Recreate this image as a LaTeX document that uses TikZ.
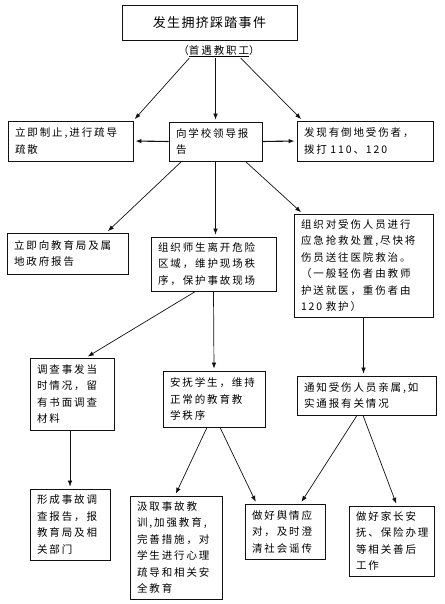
\documentclass[tikz,border=0pt]{standalone}
\usepackage{fontspec}
\usepackage{tikz}
\usetikzlibrary{calc,arrows.meta}
\newfontfamily\cjk[LetterSpace=18]{Noto Sans CJK SC}
\newfontfamily\cjktitle[LetterSpace=10]{Noto Sans CJK SC}
\definecolor{FlowInk}{HTML}{111111}

\begin{document}
\begin{tikzpicture}[
  x=1pt,y=-1pt,
  box/.style={draw=FlowInk,line width=.8pt,inner xsep=7pt,inner ysep=4pt,text width=#1,
    align=left,font=\cjk\fontsize{10.5pt}{16.5pt}\selectfont},
  title/.style={draw=FlowInk,line width=.8pt,minimum width=175pt,minimum height=35pt,
    align=center,font=\cjktitle\fontsize{13pt}{15pt}\selectfont},
  note/.style={inner sep=1pt,font=\cjk\fontsize{10.5pt}{13pt}\selectfont},
  line/.style={draw=FlowInk,line width=.7pt,-{Latex[length=6pt,width=4.5pt]},shorten >=2pt}
]
\useasboundingbox (0,0) rectangle (444,604);
\node[title] (event) at (209.5,22.5) {发生拥挤踩踏事件};
\node[note] (first) at (219,51) {（\underline{首遇教职工}）};
% second row
\node[box=111pt,minimum height=40pt] (stop) at (70.5,141) {立即制止,进行疏导\\疏散};
\node[box=79pt,minimum height=39pt] (rep) at (215.5,141.5) {向学校领导报\\告};
\node[box=122pt,minimum height=40pt] (call) at (365,141) {发现有倒地受伤者，\\拨打 110、120};
% third row
\node[box=107pt,minimum height=41pt] (bureau) at (67.5,253.5) {立即向教育局及属\\地政府报告};
\node[box=111pt,minimum height=54pt] (evac) at (213.5,264) {组织师生离开危险\\区域，维护现场秩\\序，保护事故现场};
\node[box=125pt,minimum height=103pt] (rescue) at (363.5,265.5) {组织对受伤人员进行\\应急抢救处置,尽快将\\伤员送往医院救治。\\（一般轻伤者由教师\\护送就医，重伤者由\\120 救护）};
% fourth row
\node[box=70pt,minimum height=72pt] (survey) at (72,394) {调查事发当\\时情况，留\\有书面调查\\材料};
\node[box=88pt,minimum height=56pt] (calm) at (214,399) {安抚学生，维持\\正常的教育教\\学秩序};
\node[box=125pt,minimum height=39pt] (notify) at (366.5,395.5) {通知受伤人员亲属,如\\实通报有关情况};
% fifth row
\node[box=66pt,minimum height=71pt] (report) at (70,524.5) {形成事故调\\查报告，报\\教育局及相\\关部门};
\node[box=78pt,minimum height=103pt] (lesson) at (176,547.5) {汲取事故教\\训,加强教育,\\完善措施，对\\学生进行心理\\疏导和相关安\\全教育};
\node[box=66pt,minimum height=55pt] (rumor) at (285,531.5) {做好舆情应\\对，及时澄\\清社会谣传};
\node[box=71pt,minimum height=70pt] (after) at (391.5,541) {做好家长安\\抚、保险办理\\等相关善后\\工作};

\draw[line] ([xshift=12pt]first.south west) -- (stop.north east);
\draw[line] (first.south -| rep.north) -- (rep.north);
\draw[line] ([xshift=-20pt]first.south east) -- ([xshift=6pt]call.north west);
\draw[line,line width=1.1pt] (rep.west) -- (stop.east);
\draw[line,line width=1.1pt] (rep.east) -- (call.west);
\draw[line] ([xshift=13pt]rep.south west) -- ([xshift=-22pt]bureau.north east);
\draw[line] (rep.south) -- (rep.south |- evac.north);
\draw[line] ([xshift=-17pt]rep.south east) -- ([xshift=9pt]rescue.north west);
\draw[line] ([xshift=-18pt]evac.south) -- ([xshift=14pt]survey.north);
\draw[line] (evac.south) -- (calm.north);
\draw[line] (rescue.south) -- (rescue.south |- notify.north);
\draw[line] (report.north |- survey.south) -- (report.north);
\draw[line] ([xshift=-7pt]calm.south) -- ([xshift=-1pt]lesson.north);
\draw[line] ([xshift=6pt]calm.south) -- ([xshift=12pt]rumor.north west);
\draw[line] ([xshift=-9.5pt]notify.south) -- ([xshift=-25pt]rumor.north east);
\draw[line] ([xshift=-3.5pt]notify.south) -- ([xshift=5.5pt]after.north);
\end{tikzpicture}
\end{document}
